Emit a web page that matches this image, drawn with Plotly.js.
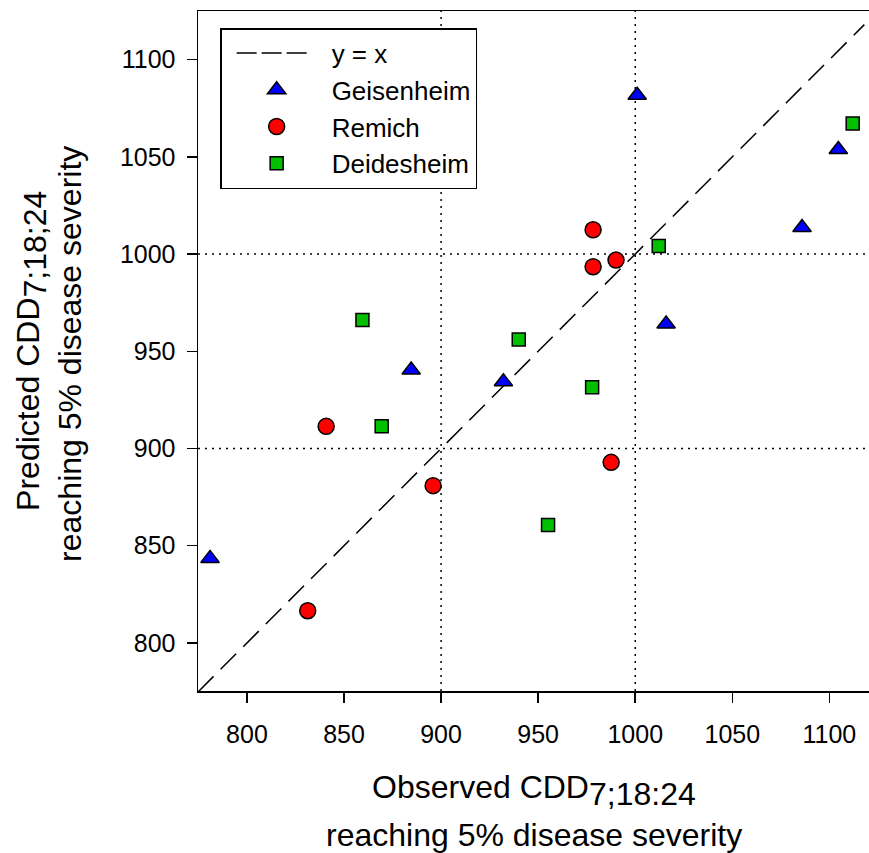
<!DOCTYPE html>
<html>
<head>
<meta charset="utf-8">
<script src="https://cdn.plot.ly/plotly-3.0.1.min.js"></script>
<style>html,body{margin:0;padding:0;background:#fff;}</style>
</head>
<body>
<div id="chart" style="width:869px;height:853px;"></div>
<script>
// Observed (x) and predicted (y) CDD values per site
const geisenheimObs  = [781, 884.6, 932.1, 1001, 1015.9, 1085.9, 1104.6];
const geisenheimPred = [843.5, 940.4, 934.3, 1081.7, 964, 1013.7, 1053.8];
const remichObs  = [831.3, 840.8, 895.9, 978.3, 978.3, 990.1, 987.6];
const remichPred = [816.6, 911.4, 880.9, 1012.5, 993.5, 996.9, 892.9];
const deidesheimObs  = [859.5, 869.4, 940, 955.1, 977.8, 1012.1, 1112];
const deidesheimPred = [966.1, 911.4, 956.1, 860.7, 931.5, 1004.1, 1067.2];
const identityLine = [774.8, 1118];
const refLines = [900, 1000];
const xTicks = [800, 850, 900, 950, 1000, 1050, 1100];
const yTicks = [800, 850, 900, 950, 1000, 1050, 1100];
const seriesNames = ['y = x', 'Geisenheim', 'Remich', 'Deidesheim'];
const xTitleLines = ['Observed CDD<sub><span style="font-size:32px">7;18:24</span></sub>',
                     'reaching 5% disease severity'];
const yTitleLines = ['Predicted CDD<sub><span style="font-size:32px">7;18;24</span></sub>',
                     'reaching 5% disease severity'];

const FONT = 'Liberation Sans, Arial, sans-serif';

const traces = [
  {x: identityLine, y: identityLine, mode: 'lines', name: seriesNames[0], showlegend: false,
   line: {color: '#000', width: 1.5, dash: '22px,10px'}, hoverinfo: 'skip'},
  // legend-only entry for the identity line (three short dashes)
  {x: [null], y: [null], mode: 'lines', name: seriesNames[0],
   line: {color: '#000', width: 1.5, dash: '0px,10px,20px,5px,20px,5px,20px,60px'}},
  {x: geisenheimObs, y: geisenheimPred, mode: 'markers', name: seriesNames[1],
   marker: {symbol: 'triangle-up', size: 16, color: '#0000FF', line: {color: '#000', width: 1.5}}},
  {x: remichObs, y: remichPred, mode: 'markers', name: seriesNames[2],
   marker: {symbol: 'circle', size: 16, color: '#FF0000', line: {color: '#000', width: 1.5}}},
  {x: deidesheimObs, y: deidesheimPred, mode: 'markers', name: seriesNames[3],
   marker: {symbol: 'square', size: 13, color: '#00C000', line: {color: '#000', width: 1.5}}}
];

const shapes = [];
refLines.forEach(v => {
  shapes.push({type: 'line', xref: 'x', yref: 'paper', x0: v, x1: v, y0: 0, y1: 1,
    line: {color: '#000', width: 1.5, dash: '2px,5px'}, layer: 'below'});
  shapes.push({type: 'line', xref: 'paper', yref: 'y', x0: 0, x1: 1, y0: v, y1: v,
    line: {color: '#000', width: 1.5, dash: '2px,5px'}, layer: 'below'});
});

const titleFont = {family: FONT, size: 32, color: '#000'};
const annotations = [
  {text: xTitleLines[0], xref: 'paper', yref: 'paper', x: 0.5, y: -0.146,
   xanchor: 'center', yanchor: 'middle', showarrow: false, font: titleFont},
  {text: xTitleLines[1], xref: 'paper', yref: 'paper', x: 0.5, y: -0.212,
   xanchor: 'center', yanchor: 'middle', showarrow: false, font: titleFont},
  {text: yTitleLines[0], xref: 'paper', yref: 'paper', x: -0.249, y: 0.5, textangle: -90,
   xanchor: 'center', yanchor: 'middle', showarrow: false, font: titleFont},
  {text: yTitleLines[1], xref: 'paper', yref: 'paper', x: -0.19, y: 0.495, textangle: -90,
   xanchor: 'center', yanchor: 'middle', showarrow: false, font: titleFont}
];

const layout = {
  width: 869, height: 853,
  margin: {l: 198, r: 0, t: 11, b: 162},
  paper_bgcolor: '#fff', plot_bgcolor: '#fff',
  font: {family: FONT, color: '#000', size: 26},
  showlegend: true,
  legend: {
    x: 0.033, y: 0.975, xanchor: 'left', yanchor: 'top',
    bgcolor: '#fff', bordercolor: '#000', borderwidth: 1.5,
    font: {family: FONT, size: 26, color: '#000'},
    itemwidth: 100, tracegroupgap: 0
  },
  xaxis: {
    range: [774.8, 1120.4], tickvals: xTicks, ticktext: xTicks.map(String),
    showgrid: false, zeroline: false,
    showline: true, linecolor: '#000', linewidth: 1.5, mirror: true,
    ticks: 'outside', ticklen: 10, tickwidth: 1.5, tickcolor: '#000',
    ticklabelstandoff: 10,
    tickfont: {family: FONT, size: 25, color: '#000'}
  },
  yaxis: {
    range: [775.3, 1125], tickvals: yTicks, ticktext: yTicks.map(String),
    showgrid: false, zeroline: false,
    showline: true, linecolor: '#000', linewidth: 1.5, mirror: false,
    ticks: 'outside', ticklen: 10, tickwidth: 1.5, tickcolor: '#000',
    ticklabelstandoff: 6,
    tickfont: {family: FONT, size: 25, color: '#000'}
  },
  shapes: shapes,
  annotations: annotations
};

Plotly.newPlot('chart', traces, layout, {displayModeBar: false, staticPlot: true});
</script>
</body>
</html>
